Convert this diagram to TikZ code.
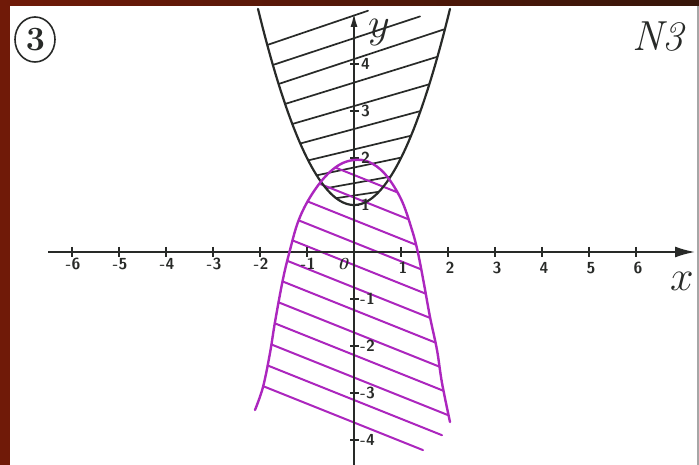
\documentclass[tikz,border=0pt]{standalone}
\usetikzlibrary{arrows.meta}
\definecolor{mag}{RGB}{172,38,190}
\definecolor{ink}{RGB}{40,42,40}
\definecolor{frameA}{RGB}{112,26,8}
\definecolor{frameB}{RGB}{55,22,10}
\tikzset{
  curveblack/.style={ink, line width=2.2pt, line cap=round},
  curvemag/.style={mag, line width=2.4pt, line cap=round},
  bhatch/.style={ink, line width=1.7pt, line cap=round},
  mhatch/.style={mag, line width=2pt, line cap=round},
  axisline/.style={ink, line width=1.8pt},
  tickmark/.style={ink, line width=1.6pt},
  ticklab/.style={ink, font=\fontsize{16}{16}\selectfont\sffamily\bfseries, inner sep=0pt},
}
\def\magpath{plot[smooth, tension=0.6] coordinates {(255,410) (263,387) (270,353) (275,322) (283,279) (290,250) (298,222) (309,199) (324,178) (339,165) (354,160) (369,162) (385,174) (401,199) (412,230) (418,253) (424,284) (430,317) (437,350) (442,383) (450,422)}}
\begin{document}
\begin{tikzpicture}[x=1pt,y=-1pt]
\useasboundingbox (0,0) rectangle (699,465);
\fill[white] (0,0) rectangle (699,465);
\fill[frameA] (0,0) rectangle (10,465);
\shade[left color=frameA, right color=frameB] (0,0) rectangle (699,6);
\fill[gray!70] (697,6) rectangle (699,465);

% black hatch
\begin{scope}
  \clip plot[domain=-100:100, samples=60] ({354+\x},{205-\x*\x/47}) -- cycle;
  \foreach \c/\s/\xr in {15.5/0.34/368, 38.2/0.33/420, 59.1/0.33/470, 82.6/0.31/470, 106.1/0.29/470, 129/0.27/470, 149.4/0.24/470, 167.5/0.21/470, 183.2/0.18/470, 195.5/0.15/470}
    \draw[bhatch] (250,{\c+\s*104}) -- (\xr,{\c-\s*(\xr-354)});
\end{scope}

% magenta hatch
\begin{scope}
  \clip \magpath -- (450,465) -- (255,465) -- cycle;
  \foreach \k/\xr in {0/470,1/470,2/470,3/470,4/470,5/470,6/470,7/470,8/470,9/470,10/442,11/423}
    \draw[mhatch] (240,{175+22.5*\k-0.4*114}) -- (\xr,{175+22.5*\k+0.4*(\xr-354)});
\end{scope}

% axes
\coordinate (xs) at (48,252);
\coordinate (xe) at (695,252);
\coordinate (ys) at (354,465);
\coordinate (ye) at (354,13);
\draw[axisline, -{Latex[length=20pt,width=11pt]}] (xs) -- (xe);
\draw[axisline, -{Latex[length=14pt,width=7pt]}] (ys) -- (ye);

\foreach \k in {-6,-5,-4,-3,-2,-1,1,2,3,4,5,6}
  \draw[tickmark] ({354+47*\k},247) -- ({354+47*\k},257);
\foreach \k in {-4,-3,-2,-1,1,2,3,4}
  \draw[tickmark] (350,{252-47*\k}) -- (359,{252-47*\k});

% curves
\draw[curveblack] plot[domain=-96:96, samples=80] ({354+\x},{205-\x*\x/47});
\draw[curvemag] \magpath;

% x tick labels
\foreach \k in {-6,-5,-4,-3,-2,-1}
  \node[ticklab] (xl\k) at ({355+47*\k},264) {\k};
\foreach \k in {1,2,3,4,5,6}
  \node[ticklab] (xp\k) at ({356+47*\k},268) {\k};
\node[ticklab, font=\fontsize{17}{17}\selectfont\itshape\bfseries] (zero) at (343,264) {0};
% y tick labels
\foreach \k in {1,2,3,4}
  \node[ticklab, anchor=west] (yp\k) at (361,{252-47*\k}) {\k};
\foreach \k in {1,2,3,4}
  \node[ticklab, anchor=west] (yn\k) at (360,{252+47*\k}) {-\k};

% axis names
\node[ink, inner sep=0pt, scale=1.7] (ylab) at (379,33) {\fontsize{24}{24}\selectfont$y$};
\node[ink, inner sep=0pt, scale=1.7] (xlab) at (682,281) {\fontsize{24}{24}\selectfont$x$};

% corner marks
\draw[ink, line width=1.6pt] (35,39.5) ellipse (20 and 22.5);
\node[ink, inner sep=0pt] (num) at (35.5,40) {\fontsize{34}{34}\selectfont\bfseries 3};
\node[ink, inner sep=0pt] (nlab) at (658,37) {\fontsize{42}{42}\selectfont\itshape N3};
\end{tikzpicture}
\end{document}
